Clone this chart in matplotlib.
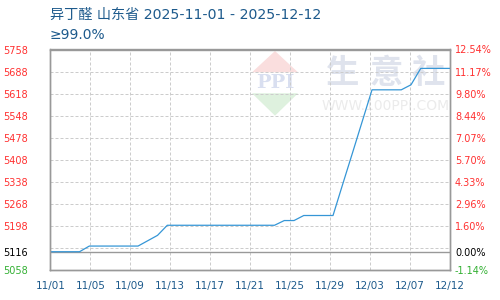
import numpy as np
import matplotlib
matplotlib.use('Agg')
import matplotlib.pyplot as plt
from matplotlib.patches import Polygon

plt.rcParams['font.family'] = ['DejaVu Sans']

# daily prices, 11/01 .. 12/12
dates = ['11/01', '11/02', '11/03', '11/04', '11/05', '11/06', '11/07', '11/08',
         '11/09', '11/10', '11/11', '11/12', '11/13', '11/14', '11/15', '11/16',
         '11/17', '11/18', '11/19', '11/20', '11/21', '11/22', '11/23', '11/24',
         '11/25', '11/26', '11/27', '11/28', '11/29', '11/30', '12/01', '12/02',
         '12/03', '12/04', '12/05', '12/06', '12/07', '12/08', '12/09', '12/10',
         '12/11', '12/12']
prices = [5116, 5116, 5116, 5116, 5134, 5134, 5134, 5134, 5134, 5134,
          5151, 5168, 5200, 5200, 5200, 5200, 5200, 5200, 5200, 5200,
          5200, 5200, 5200, 5200, 5215, 5215, 5231, 5231, 5231, 5231,
          5331, 5430, 5530, 5630, 5630, 5630, 5630, 5646, 5698, 5698,
          5698, 5698]

x_labels = ['11/01', '11/05', '11/09', '11/13', '11/17', '11/21',
            '11/25', '11/29', '12/03', '12/07', '12/12']
y_ticks = [5758, 5688, 5618, 5548, 5478, 5408, 5338, 5268, 5198, 5116, 5058]
pct_labels = ['12.54%', '11.17%', '9.80%', '8.44%', '7.07%', '5.70%',
              '4.33%', '2.96%', '1.60%', '0.00%', '-1.14%']
base = 5116

RED = '#ff3030'
GREEN = '#33b033'
BLUE_TXT = '#1d5a8c'
GRID = '#cccccc'
AXIS = '#999999'

fig = plt.figure(figsize=(5, 3), dpi=100)
ax = fig.add_axes([50.3 / 500, 30 / 300, 399.7 / 500, 220.5 / 300])

n = len(prices)
xs = np.arange(n)
ax.set_xlim(0, n - 1)
ax.set_ylim(5058, 5758)

# watermark, placed in figure pixels
inv = ax.transAxes.inverted()
def to_ax(px, py):
    return inv.transform(fig.transFigure.transform((px / 500, 1 - py / 300)))

tri_r = Polygon([to_ax(275, 51), to_ax(252, 72.3), to_ax(298, 72.3)],
                closed=True, transform=ax.transAxes, color='#fadede', lw=0, zorder=0)
tri_g = Polygon([to_ax(252, 93.3), to_ax(298, 93.3), to_ax(275, 115.7)],
                closed=True, transform=ax.transAxes, color='#def1de', lw=0, zorder=0)
ax.add_patch(tri_r)
ax.add_patch(tri_g)
cx, cy = to_ax(275.5, 83)
ax.text(cx, cy, 'PPI', transform=ax.transAxes, ha='center', va='center',
        fontsize=14, family='DejaVu Serif', color='#d9dff0', fontweight='bold', zorder=0)
for ch, px in zip(['生', '意', '社'], [342.5, 386, 428.5]):
    cx, cy = to_ax(px, 73)
    ax.text(cx, cy, ch, transform=ax.transAxes, ha='center', va='center',
            fontsize=24, family=['Noto Sans CJK SC'], fontweight='bold',
            color='#dfe3ed', zorder=0)
cx, cy = to_ax(385.7, 106)
ax.text(cx, cy, 'WWW.100PPI.COM', transform=ax.transAxes, ha='center', va='center',
        fontsize=10, color='#ebebeb', zorder=0)

# grid
tick_pos = np.linspace(0, n - 1, len(x_labels))
for p in tick_pos[1:-1]:
    ax.axvline(p, color=GRID, lw=0.72, ls=(0, (3, 2)), zorder=1)
for v in np.arange(5128, 5700, 70):
    ax.axhline(v, color=GRID, lw=0.72, ls=(0, (3, 2)), zorder=1)
ax.axhline(base, color=AXIS, lw=1, zorder=2)

ax.plot(xs, prices, color='#3596d6', lw=0.9, zorder=3)

for s in ax.spines.values():
    s.set_color(AXIS)
    s.set_linewidth(1)

ax.set_xticks(tick_pos)
ax.set_xticklabels(x_labels)
ax.tick_params(axis='x', length=0, pad=8, labelsize=7.5, labelcolor=BLUE_TXT)

ax.set_yticks(y_ticks)
ax.set_yticklabels([str(v) for v in y_ticks])
ax.tick_params(axis='y', length=0, pad=16, labelsize=7)

ax2 = ax.twinx()
ax2.set_ylim(ax.get_ylim())
ax2.set_yticks(y_ticks)
ax2.set_yticklabels(pct_labels)
ax2.tick_params(axis='y', length=0, pad=3.6, labelsize=7)
for s in ax2.spines.values():
    s.set_color(AXIS)
    s.set_linewidth(1)

def color_for(v):
    if v > base:
        return RED
    if v < base:
        return GREEN
    return 'black'

for lab, v in zip(ax.get_yticklabels(), y_ticks):
    lab.set_color(color_for(v))
for lab, v in zip(ax2.get_yticklabels(), y_ticks):
    lab.set_color(color_for(v))

fig.text(50 / 500, 1 - 15 / 300, '异丁醛 山东省 2025-11-01 - 2025-12-12',
         family=['DejaVu Sans', 'Noto Sans CJK SC'], fontsize=10.2,
         color=BLUE_TXT, va='center', ha='left')
fig.text(50 / 500, 1 - 35 / 300, '≥99.0%',
         family=['DejaVu Sans'], fontsize=10,
         color=BLUE_TXT, va='center', ha='left')

fig.savefig('out.png', dpi=100)
